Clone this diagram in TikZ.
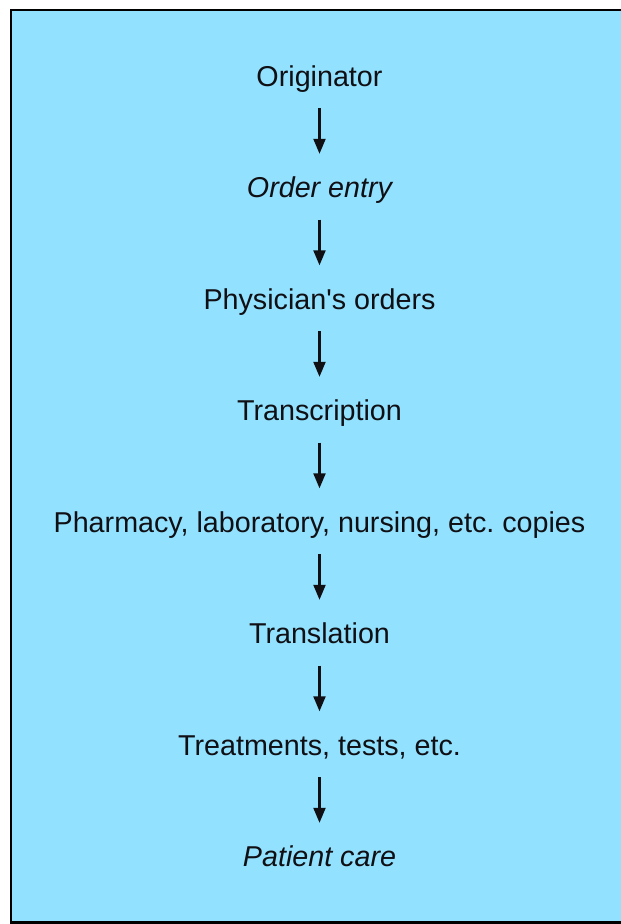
\documentclass[tikz,border=0pt]{standalone}
\usepackage{fontspec}
\setmainfont{Liberation Sans}
\usetikzlibrary{arrows.meta}
\definecolor{bgblue}{RGB}{146,225,254}
\definecolor{ink}{RGB}{15,15,20}
\frenchspacing
\begin{document}
\begin{tikzpicture}[x=1pt,y=1pt,
  stage/.style={anchor=base,inner sep=0pt,text height=21pt,text depth=6pt,
    font=\fontsize{28.7}{34}\selectfont,text=ink},
  flow/.style={line width=2.1pt,draw=ink,-{Triangle[length=15pt,width=12pt]},
    shorten <=16pt,shorten >=22.5pt}]
\useasboundingbox (0,0) rectangle (621,-924);
\fill[bgblue] (11,-10) rectangle (621,-922.5);
\draw[line width=2.4pt,black] (621,-10) -- (11,-10) -- (11,-922.5) -- (621,-922.5);
\node[stage] (n1) at (319.5,-86) {Originator};
\node[stage] (n2) at (319.5,-197.5) {\itshape Order entry};
\node[stage] (n3) at (319.5,-309) {Physician\textquotesingle s orders};
\node[stage] (n4) at (319.5,-420.5) {Transcription};
\node[stage] (n5) at (319.5,-532) {Pharmacy, laboratory, nursing, etc. copies};
\node[stage] (n6) at (319.5,-643.5) {Translation};
\node[stage] (n7) at (319.5,-755) {Treatments, tests, etc.};
\node[stage] (n8) at (319.5,-866.5) {\itshape Patient care};
\foreach \a/\b in {n1/n2,n2/n3,n3/n4,n4/n5,n5/n6,n6/n7,n7/n8}
  \draw[flow] (\a.south) -- (\b.north);
\end{tikzpicture}
\end{document}
